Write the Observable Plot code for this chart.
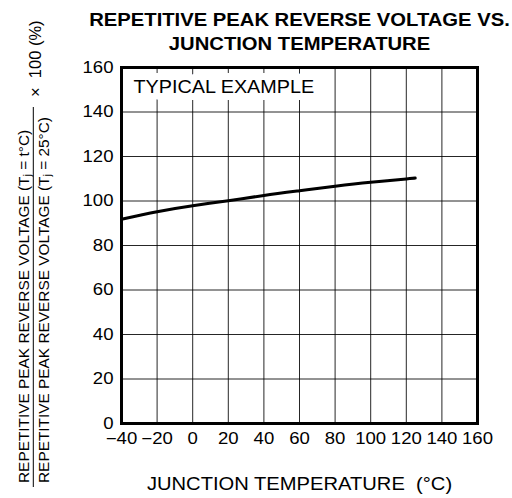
<!DOCTYPE html>
<html><head><meta charset="utf-8">
<script src="https://cdn.jsdelivr.net/npm/d3@7"></script>
<script src="https://cdn.jsdelivr.net/npm/@observablehq/plot@0.6"></script>
<style>
body{margin:0;background:#fff}
svg{font-family:"Liberation Sans",Arial,Helvetica,sans-serif}
</style>
</head><body><div id="chart"></div>
<script>
const temperature = [-40, -20, 0, 20, 40, 60, 80, 100, 120, 125];
const ratioPct = [91.8, 95.2, 97.9, 100.1, 102.5, 104.6, 106.6, 108.4, 109.9, 110.3];
const xTicks = [-40, -20, 0, 20, 40, 60, 80, 100, 120, 140, 160];
const yTicks = [0, 20, 40, 60, 80, 100, 120, 140, 160];
const titleLines = ["REPETITIVE PEAK REVERSE VOLTAGE VS.", "JUNCTION TEMPERATURE"];
const xLabel = "JUNCTION TEMPERATURE  (°C)";
const annotation = "TYPICAL EXAMPLE";
const yNumerator = ["REPETITIVE PEAK REVERSE VOLTAGE (T", "j", " = t°C)"];
const yDenominator = ["REPETITIVE PEAK REVERSE VOLTAGE (T", "j", " = 25°C)"];
const yFactor = "×  100 (%)";

const data = temperature.map((t, i) => ({t, v: ratioPct[i]}));
const fmt = d => d < 0 ? "\u2212" + (-d) : String(d);

const plot = Plot.plot({
  width: 512, height: 498,
  marginLeft: 121, marginRight: 35, marginTop: 67, marginBottom: 75,
  style: {fontFamily: '"Liberation Sans", Arial, sans-serif', fontSize: "16px", color: "#000", background: "#fff", overflow: "visible"},
  x: {domain: [-40, 160], ticks: xTicks, tickSize: 0, tickPadding: 9, label: null, tickFormat: fmt},
  y: {domain: [0, 160], ticks: yTicks, tickSize: 0, tickPadding: 8, label: null, tickFormat: fmt},
  marks: [
    Plot.gridX(xTicks, {stroke: "#000", strokeOpacity: 0.85, strokeWidth: 1}),
    Plot.gridY(yTicks, {stroke: "#000", strokeOpacity: 0.85, strokeWidth: 1}),
    Plot.text([annotation], {text: d => d, frameAnchor: "top-left", lineAnchor: "middle", dx: 12, dy: 19.5, textAnchor: "start",
      fontSize: 18, fill: "#000", stroke: "#fff", strokeWidth: 14, strokeLinejoin: "round"}),
    Plot.line(data, {x: "t", y: "v", stroke: "#000", strokeWidth: 3, curve: "natural"}),
    Plot.frame({stroke: "#000", strokeWidth: 3}),
    Plot.text([titleLines.join("\n")], {text: d => d, frameAnchor: "top", lineAnchor: "middle", dy: -37, fontSize: 19, fontWeight: "bold", lineHeight: 1.23, fill: "#000"}),
    Plot.text([xLabel], {text: d => d, frameAnchor: "bottom", lineAnchor: "middle", dy: 60.5, fontSize: 18.5, fill: "#000"})
  ]
});
document.getElementById("chart").appendChild(plot);

const svg = d3.select(plot);
function widen(sel, s) {
  sel.attr("transform", function() { return (this.getAttribute("transform") || "") + ` scale(${s},1)`; });
}
// reference glyphs are a little wider than Liberation Sans
const tickText = svg.selectAll('[aria-label="x-axis tick label"] text, [aria-label="y-axis tick label"] text').style("font-size", "16px");
widen(tickText, 1.16);
const textGroups = svg.selectAll('g[aria-label="text"]').nodes();
widen(d3.select(textGroups[0]).selectAll("text"), 1.1);   // TYPICAL EXAMPLE
widen(d3.select(textGroups[1]).selectAll("text"), 1.065); // title
widen(d3.select(textGroups[2]).selectAll("text"), 1.09);  // x label

// y-axis label as a fraction
const gl = svg.append("g").attr("fill", "#000").style("font-size", "15.4px");
function rotText(x, y, parts) {
  const t = gl.append("text").attr("transform", `translate(${x},${y}) rotate(-90)`).attr("text-anchor", "start");
  t.append("tspan").text(parts[0]);
  t.append("tspan").text(parts[1]).attr("dy", 2.5).style("font-size", "11px");
  t.append("tspan").text(parts[2]).attr("dy", -2.5);
  return t;
}
rotText(28.5, 483, yNumerator);
rotText(48.5, 483, yDenominator);
gl.append("line").attr("x1", 33.3).attr("x2", 33.3).attr("y1", 107).attr("y2", 487).attr("stroke", "#000").attr("stroke-width", 1);
gl.append("text").attr("transform", "translate(40.7,97) rotate(-90)").attr("text-anchor", "start")
  .style("font-size", "16.5px").text(yFactor);
</script>
</body></html>
